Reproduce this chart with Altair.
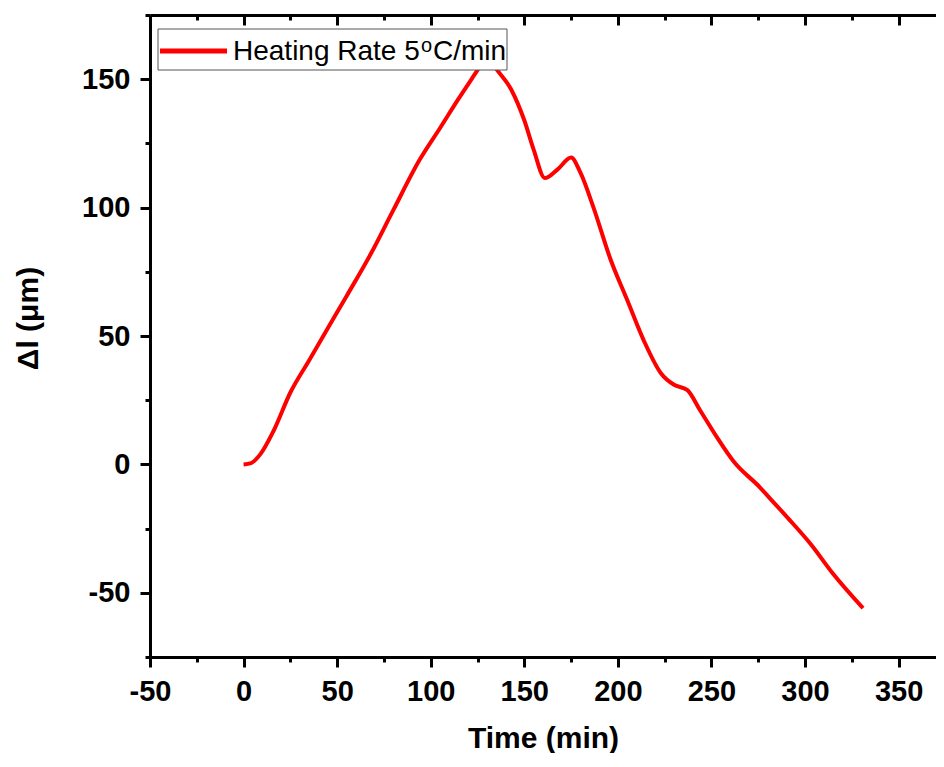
import altair as alt
import pandas as pd

# ---- data ----
time_min = [0, 4, 9, 16, 25, 35, 45, 55, 68, 80, 94, 105, 115, 125, 130, 135, 143, 150,
            155, 161, 168, 175, 180, 187, 196, 205, 214, 223, 230, 237, 244, 253, 262,
            276, 281, 291, 303, 315, 331]
delta_l = [0, 0.5, 4, 13, 28, 40.5, 53, 65.5, 82, 99, 118.5, 131, 142.5, 153.5, 159, 154,
           146, 134, 122.6, 111.5, 115, 119.5, 113.6, 100, 80, 64, 48, 35.5, 31, 29, 21,
           10.5, 1, -9, -13, -21, -31, -42.6, -56]
legend_parts = ["Heating Rate 5", "o", "C/min"]

x_major = [-50, 0, 50, 100, 150, 200, 250, 300, 350]
x_minor = [-25, 25, 75, 125, 175, 225, 275, 325]
y_major = [-50, 0, 50, 100, 150]
y_minor = [-75, -25, 25, 75, 125, 175]

df = pd.DataFrame({"t": time_min, "v": delta_l})

xs = alt.Scale(domain=[-50, 370], nice=False, zero=False)
ys = alt.Scale(domain=[-75, 175], nice=False, zero=False)

FONT = "Liberation Sans"
common = dict(grid=False, domainColor="black", tickColor="black", tickWidth=3,
              labelFont=FONT, labelFontWeight="bold", labelFontSize=29,
              labelColor="black", titleFont=FONT, titleFontWeight="bold",
              titleFontSize=30, titleColor="black", labelFlush=False,
              labelOverlap=False)

base = alt.Chart(df)

line = base.mark_line(color="#ff0000", strokeWidth=4, interpolate="monotone").encode(
    x=alt.X("t:Q", scale=xs, axis=alt.Axis(
        orient="bottom", values=x_major, tickSize=10, labelPadding=10,
        domainWidth=3, labelExpr="'' + datum.value",
        title="Time (min)", titleY=90, titleBaseline="alphabetic", **common)),
    y=alt.Y("v:Q", scale=ys, axis=alt.Axis(
        orient="left", values=y_major, tickSize=10, labelPadding=10,
        domainWidth=3, labelExpr="'' + datum.value",
        title="\u0394l (\u03bcm)", titleX=-122, titleY=303, titleAngle=270,
        titleAlign="center", titleBaseline="middle", **common)),
)

minor = base.mark_line(strokeOpacity=0).encode(
    x=alt.X("t:Q", scale=xs, axis=alt.Axis(
        orient="bottom", values=x_minor, tickSize=5, labels=False, domain=False,
        title=None, grid=False, tickColor="black", tickWidth=3)),
    y=alt.Y("v:Q", scale=ys, axis=alt.Axis(
        orient="left", values=y_minor, tickSize=5, labels=False, domain=False,
        title=None, grid=False, tickColor="black", tickWidth=3)),
)

top_frame = base.mark_line(strokeOpacity=0).encode(
    x=alt.X("t:Q", scale=xs, axis=alt.Axis(
        orient="top", ticks=False, labels=False, domain=True, domainWidth=3,
        domainColor="black", title=None, grid=False)),
    y=alt.Y("v:Q", scale=ys, axis=alt.Axis(
        orient="right", ticks=False, labels=False, domain=True, domainWidth=1,
        domainColor="#dddddd", title=None, grid=False)),
)

top_major = base.mark_line(strokeOpacity=0).encode(
    x=alt.X("t:Q", scale=xs, axis=alt.Axis(
        orient="top", values=x_major, tickSize=10, offset=-10, labels=False,
        domain=False, title=None, grid=False, tickColor="black", tickWidth=3)),
    y=alt.Y("v:Q", scale=ys, axis=None),
)

top_minor = base.mark_line(strokeOpacity=0).encode(
    x=alt.X("t:Q", scale=xs, axis=alt.Axis(
        orient="top", values=x_minor, tickSize=5, offset=-5, labels=False,
        domain=False, title=None, grid=False, tickColor="black", tickWidth=3)),
    y=alt.Y("v:Q", scale=ys, axis=None),
)

one = alt.Chart(pd.DataFrame({"k": [0]}))
leg_box = one.mark_rect(fill="white", stroke="#555555", strokeWidth=1).encode(
    x=alt.value(8), x2=alt.value(357), y=alt.value(14), y2=alt.value(55))
leg_line = one.mark_rule(color="#ff0000", strokeWidth=5).encode(
    x=alt.value(10), x2=alt.value(77), y=alt.value(36))
leg_t1 = one.mark_text(align="left", baseline="alphabetic", font=FONT, fontSize=28,
                       color="black", text=legend_parts[0]).encode(
    x=alt.value(83), y=alt.value(45))
leg_t2 = one.mark_text(align="left", baseline="alphabetic", font=FONT, fontSize=20,
                       color="black", text=legend_parts[1]).encode(
    x=alt.value(271), y=alt.value(37))
leg_t3 = one.mark_text(align="left", baseline="alphabetic", font=FONT, fontSize=28,
                       color="black", text=legend_parts[2]).encode(
    x=alt.value(283), y=alt.value(45))

chart = alt.layer(line, minor, top_frame, top_major, top_minor,
                  leg_box, leg_line, leg_t1, leg_t2, leg_t3).resolve_axis(
    x="independent", y="independent").properties(
    width=786, height=642,
    padding={"left": 142, "top": 7, "right": 0, "bottom": 96},
    autosize=alt.AutoSizeParams(type="none"),
    background="white",
).configure_view(stroke=None)

chart.save("out.html", embed_options={"renderer": "svg", "actions": False})
